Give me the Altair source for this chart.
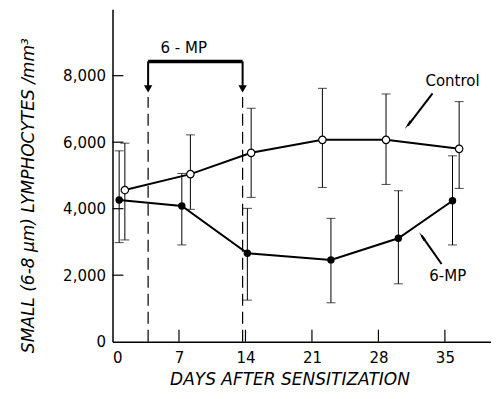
import altair as alt
import pandas as pd

# ---- data ----
ctrl_day = [1.3, 8.2, 14.6, 22.1, 28.8, 36.5]
ctrl_val = [4560, 5040, 5680, 6070, 6070, 5800]
ctrl_hi = [5970, 6220, 7020, 7620, 7450, 7220]
ctrl_lo = [3060, 3980, 4340, 4640, 4730, 4610]

mp_day = [0.7, 7.3, 14.2, 23.0, 30.1, 35.8]
mp_val = [4260, 4080, 2660, 2460, 3110, 4240]
mp_hi = [5740, 5060, 4010, 3710, 4540, 5590]
mp_lo = [2980, 2910, 1250, 1170, 1740, 2910]

x_ticks = [0, 7, 14, 21, 28, 35]
y_ticks = [0, 2000, 4000, 6000, 8000]

# treatment period (6-MP) bracket
treat_days = [3.75, 13.7]
bracket_y = 8430
arrow_tip_y = 7600
dash_top = 7360

# annotation labels
ann_text = ["6 - MP", "Control", "6-MP"]
ann_x = [7.5, 35.8, 35.3]
ann_y = [8848, 7826, 1990]

# annotation arrows (tail -> tip) and heads
arr_x = [33.7, 34.65]
arr_y = [7471, 2337]
arr_x2 = [31.1, 32.55]
arr_y2 = [6500, 3190]
head_x = [31.2, 32.67]
head_y = [6555, 3137]
head_angle = [217.8, 324.7]

FONT = "DejaVu Sans"
xs = alt.Scale(domain=[0, 39.8], nice=False, zero=False)
ys = alt.Scale(domain=[0, 10000], nice=False)

X_AX = alt.Axis(
    values=x_ticks, ticks=False, tickSize=0, grid=False, labelPadding=9,
    labelFontSize=15, labelFont=FONT, labelColor="black", labelAngle=0,
    domainColor="black", domainWidth=1.5,
    title="DAYS AFTER SENSITIZATION", titleFont=FONT, titleFontSize=17,
    titleFontStyle="italic", titleFontWeight="normal", titleColor="black",
    titleX=177, titleY=43, titleBaseline="alphabetic", titleAlign="center")
Y_AX = alt.Axis(
    values=y_ticks, format=",d", ticks=False, tickSize=0, grid=False, labelPadding=7,
    labelFontSize=15, labelFont=FONT, labelColor="black",
    domainColor="black", domainWidth=1.5,
    title="SMALL (6-8 μm) LYMPHOCYTES /mm³", titleFont=FONT, titleFontSize=17,
    titleFontStyle="italic", titleFontWeight="normal", titleColor="black",
    titleX=-84, titleY=186, titleAngle=270, titleBaseline="middle", titleAlign="center")


def X(f):
    return alt.X(f, scale=xs, axis=X_AX)


def Y(f):
    return alt.Y(f, scale=ys, axis=Y_AX)


ctrl = pd.DataFrame({"day": ctrl_day, "val": ctrl_val, "hi": ctrl_hi, "lo": ctrl_lo, "series": "Control"})
mp = pd.DataFrame({"day": mp_day, "val": mp_val, "hi": mp_hi, "lo": mp_lo, "series": "6-MP"})
both = pd.concat([ctrl, mp], ignore_index=True)
caps = pd.concat([
    both[["day", "hi"]].rename(columns={"hi": "v"}),
    both[["day", "lo"]].rename(columns={"lo": "v"}),
], ignore_index=True)

# inward tick marks
xt = pd.DataFrame({"t": x_ticks[1:], "y0": 0, "y1": 360})
xtick = alt.Chart(xt).mark_rule(color="black", strokeWidth=1.2).encode(
    x=X("t:Q"), y=Y("y0:Q"), y2="y1:Q")
yt = pd.DataFrame({"t": y_ticks[1:], "x0": 0, "x1": 1.15})
ytick = alt.Chart(yt).mark_rule(color="black", strokeWidth=1.2).encode(
    y=Y("t:Q"), x=X("x0:Q"), x2="x1:Q")

# error bars
err = alt.Chart(both).mark_rule(color="black", strokeWidth=1).encode(
    x=X("day:Q"), y=Y("lo:Q"), y2="hi:Q")
cap = alt.Chart(caps).mark_tick(orient="horizontal", size=9, thickness=1, color="black").encode(
    x=X("day:Q"), y=Y("v:Q"))

lines = alt.Chart(both).mark_line(color="black", strokeWidth=2).encode(
    x=X("day:Q"), y=Y("val:Q"), detail="series:N")

pts_ctrl = alt.Chart(ctrl).mark_point(shape="circle", filled=True, fill="white", stroke="black",
                                      strokeWidth=1.2, size=55, opacity=1).encode(
    x=X("day:Q"), y=Y("val:Q"))
pts_mp = alt.Chart(mp).mark_point(shape="circle", filled=True, color="black", size=55,
                                  opacity=1).encode(x=X("day:Q"), y=Y("val:Q"))

# treatment period markers
tdf = pd.DataFrame({"d": treat_days, "y0": 0, "yt": dash_top, "yb": bracket_y, "ya": arrow_tip_y})
dashes = alt.Chart(tdf).mark_rule(color="black", strokeWidth=1.2, strokeDash=[12, 6]).encode(
    x=X("d:Q"), y=Y("y0:Q"), y2="yt:Q")
bvert = alt.Chart(tdf).mark_rule(color="black", strokeWidth=2).encode(
    x=X("d:Q"), y=Y("yb:Q"), y2="ya:Q")
bheads = alt.Chart(tdf).mark_point(shape="triangle-down", filled=True, color="black", size=70,
                                   opacity=1).encode(x=X("d:Q"), y=Y("ya:Q"))
bh = pd.DataFrame({"a": [treat_days[0]], "b": [treat_days[1]], "y": [bracket_y]})
bhor = alt.Chart(bh).mark_rule(color="black", strokeWidth=3.5).encode(
    x=X("a:Q"), x2="b:Q", y=Y("y:Q"))

# annotations
adf = pd.DataFrame({"t": ann_text, "x": ann_x, "y": ann_y})
texts = alt.Chart(adf).mark_text(font=FONT, fontSize=15, color="black").encode(
    x=X("x:Q"), y=Y("y:Q"), text="t:N")
ardf = pd.DataFrame({"x": arr_x, "y": arr_y, "x2": arr_x2, "y2": arr_y2})
arrows = alt.Chart(ardf).mark_rule(color="black", strokeWidth=2).encode(
    x=X("x:Q"), y=Y("y:Q"), x2="x2:Q", y2="y2:Q")
hdf = pd.DataFrame({"x": head_x, "y": head_y, "a": head_angle})
heads = alt.Chart(hdf).mark_point(shape="wedge", filled=True, color="black", size=130,
                                  opacity=1).encode(
    x=X("x:Q"), y=Y("y:Q"), angle=alt.Angle("a:Q", scale=None))

chart = alt.layer(
    xtick, ytick, dashes, bhor, bvert, bheads, err, cap, lines, pts_ctrl, pts_mp,
    texts, arrows, heads
).properties(
    width=378, height=332.5,
    autosize=alt.AutoSizeParams(type="none"),
    padding={"left": 104.5, "top": 1.2, "right": 0, "bottom": 49},
    background="white",
).configure_view(stroke=None)

chart.save("out.html", embed_options={"renderer": "svg", "actions": False})
